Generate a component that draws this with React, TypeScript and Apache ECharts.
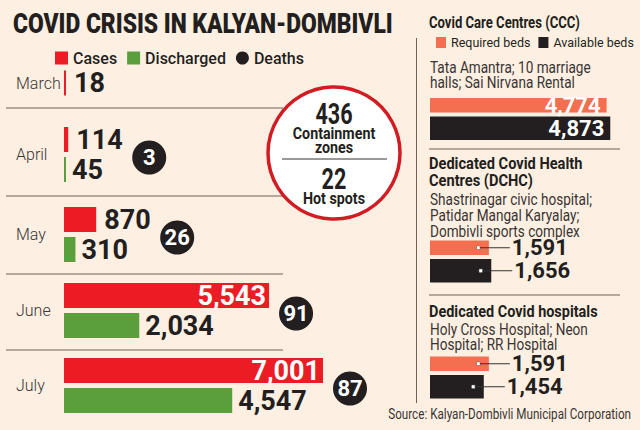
import React, { useEffect, useRef } from "react";
import * as echarts from "echarts";

// ---- data ----
const months = ["March", "April", "May", "June", "July"];
const cases = [18, 114, 870, 5543, 7001];
const discharged: (number | null)[] = [null, 45, 310, 2034, 4547];
const deaths: (number | null)[] = [null, 3, 26, 91, 87];
const containmentZones = 436;
const hotSpots = 22;
const facilityTitles = [
  ["Covid Care Centres (CCC)"],
  ["Dedicated Covid Health", "Centres (DCHC)"],
  ["Dedicated Covid hospitals"],
];
const facilityPlaces = [
  ["Tata Amantra; 10 marriage", "halls; Sai Nirvana Rental"],
  ["Shastrinagar civic hospital;", "Patidar Mangal Karyalay;", "Dombivli sports complex"],
  ["Holy Cross Hospital; Neon", "Hospital; RR Hospital"],
];
const requiredBeds = [4774, 1591, 1591];
const availableBeds = [4873, 1656, 1454];

// ---- style ----
const BG = "#fdf0e2";
const RED = "#ec1c24";
const GREEN = "#5b9e3c";
const SALMON = "#f36f4f";
const INK = "#231f20";
const RULE = "#6e6258";
const FONT = "Roboto, sans-serif";
const PX_PER_UNIT = 259 / 7001; // shared bar scale for every panel
const LEFT_W = 296;
const RIGHT_W = 200;

const fmt = (v: number) => v.toLocaleString("en-US");

function buildOption() {
  const grids: any[] = [];
  const xAxes: any[] = [];
  const yAxes: any[] = [];
  const series: any[] = [];
  const graphics: any[] = [];

  const monthTops = [68, 124.5, 204.5, 280.5, 355.5];
  months.forEach((m, i) => {
    const hasDis = discharged[i] != null;
    const gi = grids.length;
    grids.push({ left: 64, top: monthTops[i], width: LEFT_W, height: hasDis ? 60 : 30, outerBoundsMode: "none" });
    xAxes.push({ type: "value", gridIndex: gi, min: 0, max: LEFT_W / PX_PER_UNIT, show: false });
    const catIdx = yAxes.length;
    yAxes.push({
      type: "category",
      gridIndex: gi,
      inverse: true,
      data: hasDis ? ["Cases", "Discharged"] : ["Cases"],
      show: false,
    });
    const valIdx = yAxes.length;
    yAxes.push({
      type: "value",
      gridIndex: gi,
      position: "left",
      min: 0,
      max: 2,
      interval: 1,
      inverse: true,
      axisLine: { show: false },
      axisTick: { show: false },
      splitLine: { show: false },
      axisLabel: {
        show: true,
        align: "left",
        margin: 48,
        color: "#3a3433",
        fontFamily: FONT,
        fontSize: 16,
        fontWeight: 300,
        formatter: (v: number) => (v === 1 ? m : ""),
      },
    });
    const inside = cases[i] > 3000;
    series.push({
      type: "bar",
      name: "Cases",
      xAxisIndex: gi,
      yAxisIndex: catIdx,
      barWidth: 25,
      barGap: "-100%",
      barMinHeight: 2,
      itemStyle: { color: RED },
      data: hasDis ? [cases[i], null] : [cases[i]],
      label: {
        show: true,
        position: inside ? "insideRight" : "right",
        distance: inside ? 3 : 8,
        color: inside ? "#fff" : INK,
        fontFamily: FONT,
        fontWeight: "bold",
        fontSize: 27,
        formatter: (p: any) => fmt(p.value),
      },
    });
    if (hasDis) {
      series.push({
        type: "bar",
        name: "Discharged",
        xAxisIndex: gi,
        yAxisIndex: catIdx,
        barWidth: 25,
        barGap: "-100%",
        barMinHeight: 2,
        itemStyle: { color: GREEN },
        data: [null, discharged[i]],
        label: {
          show: true,
          position: "right",
          distance: 6,
          color: INK,
          fontFamily: FONT,
          fontWeight: "bold",
          fontSize: 27,
          formatter: (p: any) => fmt(p.value),
        },
      });
    }
    if (deaths[i] != null) {
      const offset = inside ? 27 : fmt(cases[i]).length * 13 + 42;
      series.push({
        type: "scatter",
        name: "Deaths",
        xAxisIndex: gi,
        yAxisIndex: valIdx,
        symbol: "circle",
        symbolSize: 34,
        symbolOffset: [offset, 3],
        itemStyle: { color: INK, opacity: 1 },
        data: [[cases[i], 1]],
        label: {
          show: true,
          position: "inside",
          color: "#fff",
          fontFamily: FONT,
          fontWeight: "bold",
          fontSize: 22,
          formatter: () => String(deaths[i]),
        },
      });
    }
  });

  // facilities
  const facTops = [98, 240.5, 356.5];
  facilityTitles.forEach((_, k) => {
    const gi = grids.length;
    grids.push({ left: 430, top: facTops[k], width: RIGHT_W, height: 42, outerBoundsMode: "none" });
    xAxes.push({ type: "value", gridIndex: gi, min: 0, max: RIGHT_W / PX_PER_UNIT, show: false });
    const catIdx = yAxes.length;
    yAxes.push({
      type: "category",
      gridIndex: gi,
      inverse: true,
      data: ["Required", "Available"],
      show: false,
    });
    const big = k === 0;
    const mkLabel = () =>
      big
        ? {
            show: true,
            position: "insideRight",
            distance: 6,
            color: "#fff",
            fontFamily: FONT,
            fontWeight: "bold",
            fontSize: 22,
            formatter: (p: any) => fmt(p.value),
          }
        : {
            show: true,
            position: "right",
            distance: -12,
            formatter: (p: any) => `{dot|}{ln|}{v|${fmt(p.value)}}`,
            rich: {
              dot: { width: 3, height: 3, backgroundColor: "#fff", borderColor: "#666", borderWidth: 0.5 },
              ln: { width: 30, height: 1, backgroundColor: "#333" },
              v: { fontFamily: FONT, fontWeight: "bold", fontSize: 22, color: INK, padding: [0, 0, 0, 2] },
            },
          };
    series.push({
      type: "bar",
      name: "Required beds",
      xAxisIndex: gi,
      yAxisIndex: catIdx,
      barWidth: 17,
      barGap: "-100%",
      itemStyle: { color: SALMON },
      data: [requiredBeds[k], null],
      label: mkLabel(),
    });
    series.push({
      type: "bar",
      name: "Available beds",
      xAxisIndex: gi,
      yAxisIndex: catIdx,
      barWidth: 26,
      barGap: "-100%",
      itemStyle: { color: INK },
      data: [null, availableBeds[k]],
      label: mkLabel(),
    });
  });

  const txt = (
    text: string,
    x: number,
    y: number,
    size: number,
    weight: any,
    align: string,
    scale: number,
    color = INK
  ) => ({
    type: "text",
    x,
    y,
    scaleX: scale,
    z: 20,
    style: {
      text,
      fill: color,
      fontFamily: FONT,
      fontSize: size,
      fontWeight: weight,
      align,
      textAlign: align,
      verticalAlign: "middle",
      textVerticalAlign: "middle",
    },
  });

  // title
  graphics.push(txt("COVID CRISIS IN KALYAN-DOMBIVLI", 13, 23, 28, 900, "left", 0.815));
  // separators left
  [108, 196, 274, 350].forEach((y) =>
    graphics.push({ type: "line", z: 1, shape: { x1: 6, y1: y, x2: 283, y2: y }, style: { stroke: RULE, lineWidth: 1 } })
  );
  // containment circle
  graphics.push({
    type: "circle",
    z: 10,
    shape: { cx: 334, cy: 153, r: 66 },
    style: { fill: "#fff", stroke: "#d01c22", lineWidth: 3.5 },
  });
  graphics.push(txt(String(containmentZones), 334, 114, 30, "bold", "center", 0.72));
  graphics.push(txt("Containment", 334, 133, 17, "bold", "center", 0.84));
  graphics.push(txt("zones", 334, 147, 17, "bold", "center", 0.84));
  graphics.push({ type: "line", z: 20, shape: { x1: 282, y1: 159, x2: 387, y2: 159 }, style: { stroke: "#333", lineWidth: 1 } });
  graphics.push(txt(String(hotSpots), 334, 179, 30, "bold", "center", 0.72));
  graphics.push(txt("Hot spots", 334, 198, 17, "bold", "center", 0.84));

  // right panel
  graphics.push({ type: "line", z: 1, shape: { x1: 416.5, y1: 38, x2: 416.5, y2: 403 }, style: { stroke: RULE, lineWidth: 1 } });
  [149, 295].forEach((y) =>
    graphics.push({ type: "line", z: 1, shape: { x1: 429, y1: y, x2: 620, y2: y }, style: { stroke: RULE, lineWidth: 1.2 } })
  );
  const titleYs = [[22], [163, 180], [311]];
  const titleScale = [0.77, 0.86, 0.85];
  const placeYs = [[68, 83], [200, 216, 232], [330, 345]];
  facilityTitles.forEach((lines, k) => {
    lines.forEach((t, j) => graphics.push(txt(t, 429, titleYs[k][j], 17, "bold", "left", titleScale[k])));
    facilityPlaces[k].forEach((t, j) =>
      graphics.push(txt(t, 430, placeYs[k][j], 16, "normal", "left", 0.85, "#3a3433"))
    );
  });
  graphics.push(txt("Source: Kalyan-Dombivli Municipal Corporation", 631, 414, 14, "normal", "right", 0.835, "#3a3433"));

  return {
    animation: false,
    backgroundColor: BG,
    legend: [
      {
        left: 50,
        top: 45,
        itemWidth: 13,
        itemHeight: 13,
        itemGap: 10,
        selectedMode: false,
        textStyle: { fontFamily: FONT, fontSize: 16, fontWeight: 500, color: INK },
        data: [
          { name: "Cases", icon: "rect" },
          { name: "Discharged", icon: "rect" },
          { name: "Deaths", icon: "circle" },
        ],
      },
      {
        left: 436,
        top: 36,
        width: 260,
        padding: 0,
        itemWidth: 10,
        itemHeight: 11,
        itemGap: 8,
        selectedMode: false,
        textStyle: { fontFamily: FONT, fontSize: 12.5, color: INK },
        data: [
          { name: "Required beds", icon: "rect" },
          { name: "Available beds", icon: "rect" },
        ],
      },
    ],
    grid: grids,
    xAxis: xAxes,
    yAxis: yAxes,
    series,
    graphic: graphics,
  };
}

export default function App() {
  const ref = useRef<HTMLDivElement>(null);
  useEffect(() => {
    document.body.style.margin = "0";
    const chart = echarts.init(ref.current!, undefined, { renderer: "svg" });
    chart.setOption(buildOption() as any);
    return () => chart.dispose();
  }, []);
  return <div ref={ref} style={{ width: 640, height: 430 }} />;
}
